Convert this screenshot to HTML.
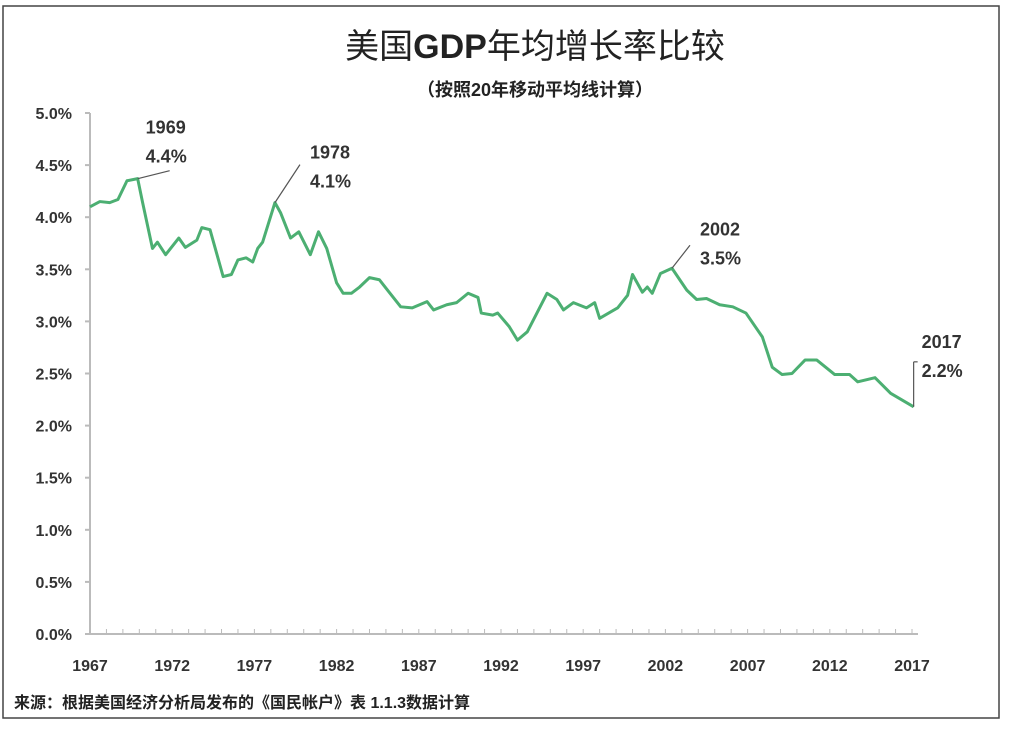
<!DOCTYPE html>
<html><head><meta charset="utf-8"><style>
body{margin:0;background:#fff;}
svg{display:block;font-family:"Liberation Sans","Noto Sans CJK SC",sans-serif;}
</style></head><body>
<svg width="1012" height="732" viewBox="0 0 1012 732">
<rect x="3" y="6" width="996" height="712" fill="#fff" stroke="#444" stroke-width="1.5"/>
<text x="535" y="58" text-anchor="middle" font-size="34" fill="#222">美国<tspan font-weight="bold">GDP</tspan>年均增长率比较</text>
<text x="535" y="96" text-anchor="middle" font-size="18" font-weight="bold" fill="#222">（按照20年移动平均线计算）</text>
<g id="axes"></g>
<g id="plot"></g>
<g id="notes"></g>
<text x="14" y="708" font-size="16" font-weight="bold" fill="#222">来源：根据美国经济分析局发布的《国民帐户》表 1.1.3数据计算</text>
</svg>
<script>
const years=[1967.0,1967.6,1968.2,1968.7,1969.25,1969.9,1970.2,1970.8,1971.1,1971.6,1972.4,1972.8,1973.5,1973.8,1974.3,1975.1,1975.6,1976.0,1976.5,1976.9,1977.2,1977.5,1978.25,1978.6,1979.2,1979.7,1980.4,1980.9,1981.4,1982.0,1982.4,1982.9,1983.4,1984.0,1984.6,1985.1,1985.9,1986.6,1987.5,1987.9,1988.7,1989.3,1990.0,1990.6,1990.8,1991.5,1991.8,1992.5,1993.0,1993.6,1994.8,1995.4,1995.8,1996.4,1997.2,1997.7,1998.0,1999.1,1999.7,2000.0,2000.6,2000.9,2001.2,2001.7,2002.4,2003.3,2003.9,2004.5,2005.3,2006.1,2006.9,2007.9,2008.5,2009.1,2009.7,2010.5,2011.2,2012.3,2013.2,2013.7,2014.75,2015.7,2017.1];
const growth=[4.10,4.15,4.14,4.17,4.35,4.37,4.14,3.70,3.76,3.64,3.80,3.71,3.78,3.90,3.88,3.43,3.45,3.59,3.61,3.57,3.70,3.76,4.14,4.04,3.80,3.86,3.64,3.86,3.70,3.37,3.27,3.27,3.33,3.42,3.40,3.30,3.14,3.13,3.19,3.11,3.16,3.18,3.27,3.23,3.08,3.06,3.08,2.95,2.82,2.90,3.27,3.21,3.11,3.18,3.13,3.18,3.03,3.13,3.25,3.45,3.28,3.33,3.27,3.46,3.51,3.30,3.21,3.22,3.16,3.14,3.08,2.85,2.56,2.49,2.50,2.63,2.63,2.49,2.49,2.42,2.46,2.31,2.18];
const yTicks=[0,0.5,1,1.5,2,2.5,3,3.5,4,4.5,5];
const xTickLabels=[1967,1972,1977,1982,1987,1992,1997,2002,2007,2012,2017];
const notes=[{yr:1969.9,v:4.37,label:"1969",val:"4.4%",dx:32,dy:-8,tx:8,ty:-45},{yr:1978.25,v:4.14,label:"1978",val:"4.1%",dx:25,dy:-38,tx:35,ty:-44},{yr:2002.4,v:3.51,label:"2002",val:"3.5%",dx:18,dy:-23,tx:28,ty:-33},{yr:2017.1,v:2.18,label:"2017",val:"2.2%",dx:0,dy:-45,tx:8,ty:-59}];
const NS="http://www.w3.org/2000/svg";
const X=y=>90+(y-1967)*16.44, Y=v=>634-v*104.2;
function mk(t,a,p){const e=document.createElementNS(NS,t);for(const k in a)e.setAttribute(k,a[k]);p.appendChild(e);return e;}
const ax=document.getElementById('axes');
const ya=mk('line',{x1:90,y1:Y(5),x2:90,y2:634,stroke:'#bbb','stroke-width':2},ax);

const xa=mk('line',{x1:90,y1:634,x2:918,y2:634,stroke:'#bbb','stroke-width':2},ax);

yTicks.forEach(v=>{
 const t=mk('line',{x1:85,x2:90,y1:Y(v),y2:Y(v),stroke:'#bbb','stroke-width':2},ax);
 
 const l=mk('text',{x:72,y:Y(v)+6,'text-anchor':'end','font-size':16,'font-weight':'bold',fill:'#333'},ax);
 l.textContent=v.toFixed(1)+'%';
 
});
for(let yr=1967;yr<=2017;yr++){
 const t=mk('line',{x1:X(yr),x2:X(yr),y1:629,y2:634,stroke:'#bbb','stroke-width':1},ax);
 
}
xTickLabels.forEach(yr=>{
 const l=mk('text',{x:X(yr),y:671,'text-anchor':'middle','font-size':16,'font-weight':'bold',fill:'#333'},ax);
 l.textContent=yr;
 
});
const pl=document.getElementById('plot');
const line=mk('polyline',{points:years.map((y,i)=>X(y)+','+Y(growth[i])).join(' '),fill:'none',stroke:'#4caf72','stroke-width':3,'stroke-linejoin':'round'},pl);

const ng=document.getElementById('notes');
notes.forEach(n=>{
 const px=X(n.yr),py=Y(n.v);
 const ld=mk('line',{x1:px,y1:py,x2:px+n.dx,y2:py+n.dy,stroke:'#555','stroke-width':1.2},ng);
 
 if(n.dx===0){const tk=mk('line',{x1:px,y1:py+n.dy,x2:px+4,y2:py+n.dy,stroke:'#555','stroke-width':1.2},ng);}
 const t1=mk('text',{x:px+n.tx,y:py+n.ty,'font-size':18,'font-weight':'bold',fill:'#333'},ng);t1.textContent=n.label;
 
 const t2=mk('text',{x:px+n.tx,y:py+n.ty+29,'font-size':18,'font-weight':'bold',fill:'#333'},ng);t2.textContent=n.val;
 
});
</script>
</body></html>
